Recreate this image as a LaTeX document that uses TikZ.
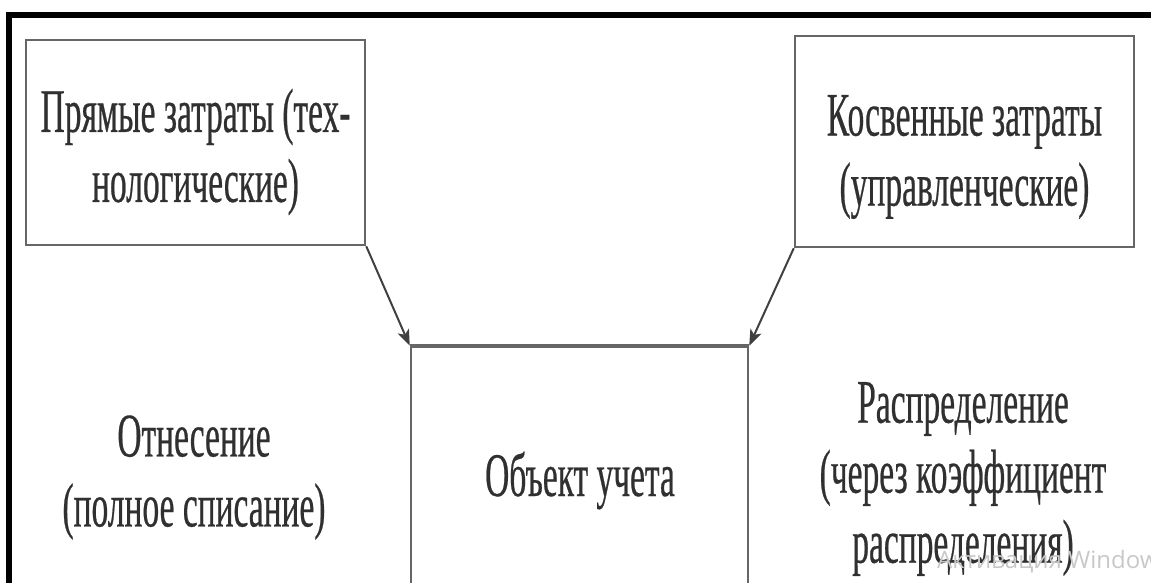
\documentclass[tikz,border=0pt]{standalone}
\usepackage{fontspec}
\setmainfont{Liberation Serif}[FakeStretch=0.54,FakeBold=0.4]
\newfontfamily\wmfont{Open Sans}
\usetikzlibrary{arrows.meta}
\definecolor{boxgray}{HTML}{666666}
\definecolor{txtgray}{HTML}{303030}
\definecolor{arrgray}{HTML}{404040}
\definecolor{wmgray}{HTML}{C8C8C8}
\begin{document}
\begin{tikzpicture}[x=1pt,y=-1pt,
  box/.style={draw=boxgray, line width=2.5pt, inner sep=0pt, rectangle},
  lbl/.style={text=txtgray, font=\fontsize{62}{70}\selectfont, align=center, inner sep=0pt},
  arr/.style={draw=arrgray, line width=2pt, -{Stealth[length=16pt,width=12pt,inset=4pt]}},
  frame/.style={draw=black, line width=6pt}]
\useasboundingbox (0,0) rectangle (1151,583);
\clip (0,0) rectangle (1151,583);
\draw[frame] (9,600) -- (9,15) -- (1170,15);
% boxes
\node[box, minimum width=339pt, minimum height=205pt] (lbox) at (195.5,142.5) {};
\node[box, minimum width=339pt, minimum height=211pt] (rbox) at (964.5,141.5) {};
\node[box, minimum width=337pt, minimum height=300pt] (obj) at (579.5,497) {};
\draw[draw=boxgray, line width=4pt] (obj.north west) -- (obj.north east);
% texts
\node[lbl] (ltxt) at (195.5,152) {Прямые затраты (тех-\\нологические)};
\node[lbl] (rtxt) at (964.5,157) {Косвенные затраты\\(управленческие)};
\node[lbl] (otxt) at (580,480.5) {Объект учета};
\node[lbl] (atxt) at (194,477.5) {Отнесение\\(полное списание)};
\node[lbl] (dtxt) at (963,479) {Распределение\\(через коэффициент\\распределения)};
% arrows
\draw[arr] (lbox.south east) -- (obj.north west);
\draw[arr] (rbox.south west) -- (obj.north east);
% watermark
\node[anchor=base west, inner sep=0pt, text=wmgray, font=\wmfont\fontsize{24}{28}\selectfont] (wm) at (937,568) {Активация Windows};
\end{tikzpicture}
\end{document}
